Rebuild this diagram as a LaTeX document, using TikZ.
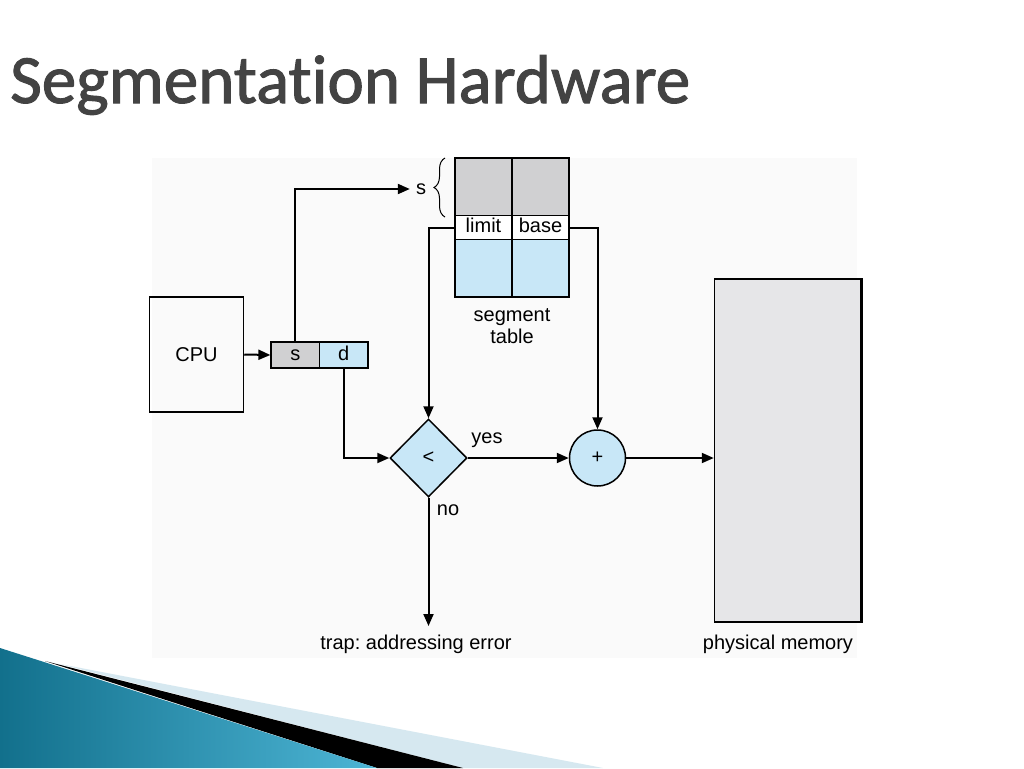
\documentclass[tikz,border=0pt]{standalone}
\usepackage{fontspec}
\setmainfont{Liberation Sans}
\newfontfamily\titlefont[Ligatures=CommonOff,FakeBold=1.5]{Carlito}
\usetikzlibrary{shapes.geometric,arrows.meta,decorations.pathreplacing}
\definecolor{graycell}{HTML}{D0D0D2}
\definecolor{bluecell}{HTML}{C8E7F7}
\definecolor{memfill}{HTML}{E6E6E8}
\definecolor{panel}{HTML}{FAFAFA}
\definecolor{tealdark}{HTML}{12708C}
\definecolor{teallight}{HTML}{4DB5D5}
\definecolor{paleblue}{HTML}{D6E8F0}
\definecolor{titlegray}{HTML}{434343}
\frenchspacing
\begin{document}
\begin{tikzpicture}[x=1pt,y=-1pt,
  lbl/.style={font=\fontsize{20}{22}\selectfont, inner sep=0pt},
  cell/.style={draw, line width=1.3pt, inner sep=0pt, text height=14pt, text depth=4pt, font=\fontsize{20}{22}\selectfont},
  box/.style={draw, line width=1.5pt, inner sep=0pt, font=\fontsize{20}{22}\selectfont},
  conn/.style={line width=2pt, -{Triangle[length=12pt,width=10pt]}}]
\useasboundingbox (0,0) rectangle (1024,768);
\fill[white] (0,0) rectangle (1024,768);
% panel
\fill[panel] (152,158) rectangle (857,658);
% bottom decoration
\fill[paleblue] (60,664) -- (603,768) -- (463,768) -- cycle;
\fill[black] (45,661) -- (463,768) -- (377,768) -- cycle;
\shade[left color=tealdark, right color=teallight] (0,648) -- (377,768) -- (0,768) -- cycle;
% title
\node[anchor=base west, inner sep=0pt, text=titlegray, font=\titlefont\fontsize{69}{72}\selectfont] (title) at (10,103) {Segmentation Hardware};
% CPU and register
\node[box, minimum width=94pt, minimum height=115pt] (cpu) at (196.5,354.5) {CPU};
\node[cell, fill=graycell, minimum width=48.5pt, minimum height=26pt] (sreg) at (295.25,355) {s};
\node[cell, fill=bluecell, minimum width=48.5pt, minimum height=26pt] (dreg) at (343.75,355) {d};
% segment table
\node[cell, fill=graycell, minimum width=57pt, minimum height=57.5pt] (g1) at (483.5,186.75) {};
\node[cell, fill=graycell, minimum width=57pt, minimum height=57.5pt] (g2) at (540.5,186.75) {};
\node[cell, fill=white, minimum width=57pt, minimum height=23.5pt] (limit) at (483.5,227.5) {limit};
\node[cell, fill=white, minimum width=57pt, minimum height=23.5pt] (base) at (540.5,227.5) {base};
\node[cell, fill=bluecell, minimum width=57pt, minimum height=57.5pt] (b1) at (483.5,268.25) {};
\node[cell, fill=bluecell, minimum width=57pt, minimum height=57.5pt] (b2) at (540.5,268.25) {};
\node[lbl, align=center] (segtab) at (512,326) {segment\\table};
% s label and brace
\node[lbl] (slab) at (421,189) {s};
\draw[line width=1pt, decorate, decoration={brace, amplitude=11pt}] (445,217) -- (445,158);
% compare and add
\node[diamond, draw, line width=1.5pt, fill=bluecell, minimum width=77pt, minimum height=78pt, inner sep=0pt, font=\fontsize{20}{22}\selectfont] (cmp) at (428.5,458) {<};
\node[circle, draw, line width=1.5pt, fill=bluecell, minimum size=56pt, inner sep=0pt, font=\fontsize{20}{22}\selectfont] (add) at (597.5,458) {+};
% memory
\node[draw, line width=1.5pt, fill=memfill, minimum width=146pt, minimum height=343pt, inner sep=0pt] (mem) at (787.5,450.5) {};
\draw[line width=3pt] (mem.north east) -- (mem.south east);
% labels
\node[lbl] (yeslab) at (487,440) {yes};
\node[lbl] (nolab) at (448,510) {no};
\node[lbl] (trap) at (416,644) {trap: addressing error};
\node[lbl] (physmem) at (778,644) {physical memory};
\coordinate (trapend) at (428.5,626);
% connectors
\draw[conn] (cpu.east) -- (sreg.west);
\draw[conn, shorten >=6pt] (sreg.north) |- (slab.west);
\draw[conn] (limit.west) -| (cmp.north);
\draw[conn] (base.east) -| (add.north);
\draw[conn] (dreg.south) |- (cmp.west);
\draw[conn] (cmp.east) -- (add.west);
\draw[conn] (cmp.south) -- (trapend);
\draw[conn] (add.east) -- (add.east -| mem.west);
\end{tikzpicture}
\end{document}
